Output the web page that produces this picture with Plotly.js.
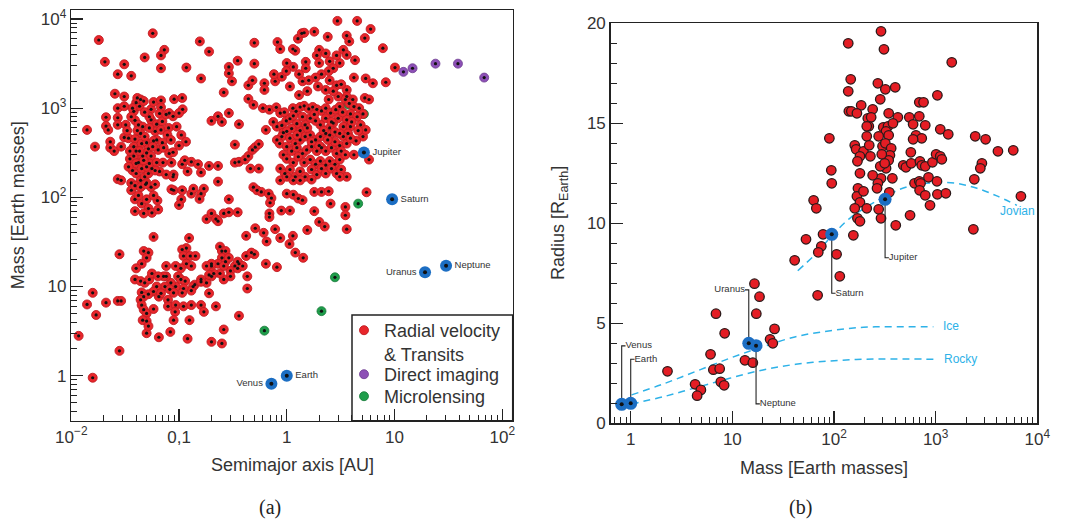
<!DOCTYPE html>
<html><head><meta charset="utf-8">
<script src="https://cdn.plot.ly/plotly-3.0.1.min.js"></script>
<style>html,body{margin:0;padding:0;background:#fff}#chart{width:1066px;height:525px}</style>
</head><body><div id="chart"></div>
<script>
// ---------- Panel (a): semimajor axis [AU] vs mass [Earth masses] ----------
const rvA = [
0.018,0.057,0.048,0.0205,0.031,0.027,0.036,0.073,0.068,0.068,
0.156,0.19,0.16,0.117,0.35,0.29,0.29,0.31,0.26,0.5,
0.5,0.44,0.48,0.62,0.62,0.82,0.87,0.78,0.76,0.9,
1.2,1.14,1.27,1.38,1.45,1.8,2.4,2.95,3.6,3.8,
4.5,5.3,6.0,7.8,10.1,8.3,6.3,5.4,4.2,4.3,
3.35,3.6,3.1,2.9,2.0,1.9,2.3,2.0,2.5,2.7,
2.45,2.1,1.85,1.5,1.5,1.3,1.4,1.6,1.15,1.0,
0.99,1.07,2.5,2.9,3.6,3.2,2.3,1.95,1.55,1.3,
4.1,5.3,5.8,3.6,3.0,2.45,2.7,
0.014,0.0166,0.021,0.021,0.0254,0.027,0.027,0.022,0.023,0.023,
0.025,0.027,0.031,0.031,0.032,0.031,0.029,0.027,0.029,0.034,
0.035,0.036,0.036,0.038,0.040,0.041,0.043,0.044,0.047,0.039,
0.042,0.046,0.044,0.039,0.038,0.040,0.045,0.050,0.052,0.038,
0.042,0.046,0.050,0.055,0.037,0.040,0.044,0.048,0.052,0.056,
0.040,0.045,0.050,0.053,0.039,0.044,0.050,0.055,0.060,0.039,
0.039,0.045,0.050,0.052,0.056,0.063,0.064,0.047,0.055,0.058,
0.068,0.068,0.066,0.055,0.062,0.070,0.076,0.081,0.060,0.068,
0.080,0.088,0.062,0.070,0.078,0.084,0.095,0.064,0.072,0.081,
0.088,0.090,0.107,0.108,0.100,0.105,0.116,0.100,0.062,0.071,
0.085,0.089,0.066,0.076,0.088,0.089,0.085,0.107,0.113,0.120,
0.130,0.150,0.160,0.107,0.105,0.100,0.130,0.136,0.160,0.170,
0.155,0.180,0.200,0.220,0.230,0.260,0.290,0.290,0.350,0.190,
0.230,0.230,0.200,0.230,0.250,0.290,0.360,0.330,0.330,0.360,
0.410,0.440,0.480,0.510,0.550,0.460,0.550,0.640,0.440,0.490,
0.600,0.690,0.800,0.870,0.033,0.036,0.041,0.048,0.053,0.058,
0.043,0.047,0.035,0.057,0.049,0.042,0.058,0.034,0.060,0.053,
0.048,0.037,
0.75,0.81,0.90,0.93,0.99,1.07,1.14,1.22,1.33,1.45,
1.6,1.74,1.9,2.1,2.3,2.55,2.85,3.1,3.5,3.8,
4.2,4.7,5.1,4.85,5.1,5.4,3.9,3.6,3.35,3.9,
3.7,3.35,3.1,3.6,3.0,2.7,2.5,2.3,2.05,1.85,
1.65,1.48,1.33,1.24,1.11,1.0,0.9,0.81,0.86,1.07,
1.2,1.33,1.48,1.65,1.85,2.05,2.3,2.5,2.8,3.1,
1.0,1.11,1.24,1.4,1.53,1.7,1.9,2.1,2.3,2.6,
2.9,3.2,0.93,1.0,1.15,1.28,1.45,1.65,1.85,2.05,
2.3,2.5,2.8,3.1,3.5,4.2,0.87,0.96,1.07,1.2,
1.33,1.48,1.7,1.9,2.1,2.3,2.6,2.9,3.2,3.6,
3.1,0.87,1.0,1.15,1.33,1.7,5.8,1.4,1.8,2.2,
2.6,1.55,1.25,2.0,2.8,1.15,0.95,1.7,2.4,3.3,
4.5,4.0,4.6,4.4,3.9,
0.49,0.53,0.58,0.68,0.72,0.70,0.69,0.69,0.89,1.07,
1.0,1.15,1.28,1.4,1.55,1.8,2.1,2.45,1.8,2.0,
2.25,2.55,3.5,3.5,3.6,5.5,0.51,0.61,0.65,0.78,
0.87,1.06,1.2,1.14,1.42,0.42,0.42,0.50,0.64,0.81,
0.43,0.36,0.33,0.30,0.24,0.25,0.27,0.25,0.27,0.30,
0.26,0.24,0.21,0.20,0.18,0.16,0.14,0.135,0.13,0.20,
0.23,0.124,0.117,0.107,0.11,0.127,0.142,0.117,0.13,0.104,
0.093,0.098,0.104,0.114,0.11,0.107,0.093,0.084,0.076,0.072,
0.074,0.082,0.089,0.058,0.052,0.047,0.050,0.045,0.040,0.039,
0.044,0.048,0.053,0.056,0.064,0.062,0.058,0.052,0.045,0.047,
0.065,0.076,0.068,0.079,0.079,0.093,0.092,0.089,0.11,0.13,
0.16,0.17,0.22,0.19,0.19,0.16,0.125,0.044,0.045,0.047,
0.050,0.050,0.046,0.050,0.052,0.058,0.065,0.083,0.12,0.20,
0.25,0.26,0.36,0.43,0.35,0.35,0.39,0.47,0.26,0.29,
0.20,0.18,0.0158,0.0117,0.014,0.0158,0.017,0.021,0.027,0.029,
0.028,0.028
];
const rvM = [
5800,6900,3700,3300,3100,2400,2300,4500,3900,2800,
5600,4300,2150,2850,3400,2900,2450,2000,1500,5400,
3150,1800,2050,1900,1600,5500,4600,2000,2400,2250,
4400,4600,6000,6900,7000,7200,6300,9500,6500,5600,
9500,6100,7700,4700,2850,1950,1900,2150,2200,3450,
4500,3950,3200,3900,4500,3900,4100,3200,3350,2800,
2600,2400,2200,3300,2800,2400,2000,2050,2900,3200,
2600,1750,2050,1800,1600,1850,1600,1750,1550,1400,
1250,1300,1250,1350,1350,1250,1550,
570,370,790,630,1450,780,650,570,420,360,
330,1000,1350,1050,650,470,370,160,155,460,
270,145,120,920,1150,1300,1050,1250,1200,730,
650,620,520,450,370,330,400,410,350,290,
245,290,315,290,200,185,155,170,185,210,
240,210,220,240,135,130,145,130,140,95,
70,85,95,75,67,92,73,66,970,1170,
1220,1020,870,740,660,710,850,880,550,570,
600,810,440,410,500,440,620,340,360,310,
320,1260,1300,970,880,500,420,380,245,245,
245,180,195,180,170,120,123,235,260,195,
250,235,190,120,95,82,110,125,110,125,
96,57,66,57,54,66,68,95,68,225,
225,150,720,810,700,880,660,390,245,250,
265,290,340,365,395,210,210,570,1270,1090,
1000,960,1020,880,560,800,560,480,600,430,
330,260,330,370,140,105,105,220,200,800,
900,1000,
700,620,640,530,720,760,1000,920,1030,1060,
980,1030,970,930,1000,880,960,1040,1250,1130,
1040,1000,860,650,480,570,860,740,620,620,
520,480,380,400,770,680,600,770,650,720,
770,650,560,670,590,550,480,440,400,460,
400,440,480,500,440,480,520,500,540,520,
370,330,360,310,340,370,330,360,330,360,
310,330,300,270,245,285,245,265,235,255,
230,255,235,265,300,300,210,185,205,170,
195,170,205,180,210,185,210,185,205,170,
170,155,170,155,155,158,265,800,850,560,
700,600,500,380,420,820,900,420,440,900,
800,700,560,430,460,
130,120,115,110,98,87,66,60,71,71,
110,107,97,93,43,115,115,117,70,53,
47,85,78,63,44,114,45,40,32,44,
35,30,24,37,21,37,22,23,18,16.5,
13,18,17,15,28,25,25,21,19,13,
12,14,14,13,11,12,10.5,10,9,17,
18,35,27,26,22,22,22,18,17,16,
17,13,12,11.5,9.5,8.5,10,11,13,13,
10,9.3,8.5,36,24,25,21,18,16,12,
11.5,11,12,14,13,10,8.8,8.2,8.6,7.7,
7.7,17,8.4,7.1,6.0,6.2,5.2,4.2,6.0,6.2,
6.2,5.2,6.0,8.4,13.5,11.3,4.2,7.1,6.2,5.5,
5.0,4.1,4.2,3.0,3.6,5.6,2.7,3.1,2.6,2.4,
2.3,3.3,4.7,9.5,19,16,17,24,17,21,
18,17,0.95,2.8,6.3,8.5,4.8,6.6,6.9,6.9,
1.9,23
];
const diA = [12.1,14.7,24,38.8,68];
const diM = [2550,2800,3150,3150,2200];
const mlA = [3.7,5.2,4.6,2.8,2.1,0.62];
const mlM = [1100,860,85,12.7,5.3,3.2];
const solarNamesA = ['Venus','Earth','Jupiter','Saturn','Uranus','Neptune'];
const solarA = [0.72,1.0,5.2,9.5,19.2,30.1];
const solarMA = [0.815,1.0,318,95,14.5,17.1];
const solarSideA = ['left','right','right','right','left','right'];

// ---------- Panel (b): mass [Earth masses] vs radius [R_Earth] ----------
const exoMass = [
290,310,138,1440,146,138,270,320,400,285,
1040,690,760,185,140,148,168,240,345,215,
232,220,210,210,425,550,690,600,790,305,
340,325,345,380,275,90,640,730,600,1110,
1330,2450,3100,4100,5800,160,165,195,222,180,
228,170,300,320,365,355,345,325,295,285,
290,315,240,480,510,570,575,700,730,790,
930,1010,1110,1150,2850,2750,2400,850,1030,620,
690,710,695,790,1040,1260,880,560,405,2350,
6900,350,375,270,265,172,168,180,195,160,
170,180,210,275,290,155,180,94,95,63,
67,78,75,70,53,41,106,114,69,16.5,
18.5,17.2,6.9,8.4,26,23.5,25,6.1,6.5,7.5,
7.7,8.3,13.3,15.9,2.3,4.3,4.9,4.5
];
const exoRadius = [
19.6,18.7,19.0,18.05,17.2,16.6,17.0,16.7,16.8,16.2,
16.4,16.05,16.05,15.9,15.6,15.6,15.5,15.7,15.5,15.25,
15.3,14.85,14.85,14.35,15.3,15.3,15.35,14.95,14.9,14.8,
14.85,14.6,14.4,15.0,14.35,14.25,14.4,14.25,14.2,14.7,
14.45,14.35,14.2,13.6,13.65,13.9,13.7,13.6,13.9,13.35,
13.35,13.1,13.85,14.0,13.75,13.4,13.15,12.75,13.45,12.85,
12.25,13.0,12.4,12.9,12.8,13.55,13.0,13.1,12.9,12.85,
13.05,13.45,13.35,13.2,13.0,12.75,12.2,12.3,12.1,12.0,
12.1,12.0,11.65,11.4,11.45,11.5,10.9,10.4,9.9,9.7,
11.35,11.55,12.25,12.0,11.75,11.75,11.35,11.05,11.6,10.75,
10.25,10.1,10.75,10.7,10.25,9.4,12.5,12.65,12.0,11.15,
10.75,9.45,8.85,8.55,9.2,8.15,8.45,7.35,6.4,6.98,
6.33,5.48,5.48,4.5,4.72,4.2,4.0,3.45,2.68,2.73,
2.07,1.9,3.15,3.03,2.6,1.95,1.67,1.38
];
const jovianMass = [44,67,97,143,210,305,445,655,1020,1600,2550,4000,6300];
const jovianRadius = [7.63,8.5,9.42,10.25,10.83,11.3,11.7,11.95,12.03,12.0,11.75,11.37,10.9];
const iceMass = [1.02,2.1,4.5,9.4,20,42,92,195,410,950];
const iceRadius = [1.42,1.97,2.62,3.25,3.83,4.33,4.63,4.8,4.83,4.83];
const rockyMass = [1.02,2.1,4.5,9.4,20,42,92,195,410,950];
const rockyRadius = [0.97,1.33,1.8,2.25,2.67,2.95,3.12,3.2,3.22,3.2];
const solarNamesB = ['Venus','Earth','Uranus','Neptune','Saturn','Jupiter'];
const solarMB = [0.815,1.0,14.5,17.1,95,318];
const solarRB = [0.95,1.0,4.0,3.88,9.45,11.2];
const solarLabelRB = [3.87,3.2,6.67,0.97,6.5,8.28];
const solarSideB = ['right','right','left','right','right','right'];
const modelLabels = ['Jovian','Ice','Rocky'];
const modelLabelMass = [6400,1400,1740];
const modelLabelRadius = [10.63,4.87,3.22];

// ---------- styling ----------
const RED='#e8262b', REDLINE='#c01d22', BLUE='#1c6ec3', PURPLE='#8d50b6', GREEN='#1f9d4b', CYAN='#2eb2e8';
const FONT='Liberation Sans, Arial, sans-serif';
const TXT='#333333';
const W=1066,H=525;

function dots(x,y,xa,ya,size){
  return {x:x,y:y,xaxis:xa,yaxis:ya,type:'scatter',mode:'markers',showlegend:false,hoverinfo:'skip',
    marker:{color:'#111',size:size,line:{width:0}}};
}

const traces = [];
// (a) microlensing first (partly hidden behind red points)
traces.push({x:mlA,y:mlM,xaxis:'x',yaxis:'y',type:'scatter',mode:'markers',name:'Microlensing',legend:'legend3',
  marker:{color:GREEN,size:9,line:{color:'#177a39',width:0.8}}});
traces.push(dots(mlA,mlM,'x','y',3.2));
traces.push({x:rvA,y:rvM,xaxis:'x',yaxis:'y',type:'scatter',mode:'markers',name:'Radial velocity<br>& Transits',legend:'legend',
  marker:{color:RED,size:9,line:{color:REDLINE,width:0.9}}});
traces.push(dots(rvA,rvM,'x','y',3.2));
traces.push({x:diA,y:diM,xaxis:'x',yaxis:'y',type:'scatter',mode:'markers',name:'Direct imaging',legend:'legend2',
  marker:{color:PURPLE,size:9,line:{color:'#6d3c90',width:0.8}}});
traces.push(dots(diA,diM,'x','y',3.2));
traces.push({x:solarA,y:solarMA,xaxis:'x',yaxis:'y',type:'scatter',mode:'markers+text',showlegend:false,
  text:solarNamesA,textposition:solarSideA.map(s=>s==='right'?'middle right':'middle left'),
  textfont:{family:FONT,size:9.5,color:TXT},
  marker:{color:BLUE,size:12,line:{width:0}}});
traces.push(dots(solarA,solarMA,'x','y',4));

// (b) model curves
[[jovianMass,jovianRadius],[iceMass,iceRadius],[rockyMass,rockyRadius]].forEach(p=>{
  traces.push({x:p[0],y:p[1],xaxis:'x2',yaxis:'y2',type:'scatter',mode:'lines',showlegend:false,hoverinfo:'skip',
    line:{color:CYAN,width:1.5,dash:'7px,5px',shape:'spline'}});
});
// (b) exoplanets
traces.push({x:exoMass,y:exoRadius,xaxis:'x2',yaxis:'y2',type:'scatter',mode:'markers',showlegend:false,
  marker:{color:'#e41d24',size:9.5,line:{color:'#2b1a1a',width:1.3}}});
// (b) leader lines and labels for solar-system planets
const lx=[], ly=[], tx=[], ty=[], tpos=[];
solarNamesB.forEach((n,i)=>{
  const f = solarSideB[i]==='right' ? 1.09 : 1/1.09;
  lx.push(solarMB[i], solarMB[i], solarMB[i]*f, null);
  ly.push(solarRB[i], solarLabelRB[i], solarLabelRB[i], null);
  tx.push(solarMB[i]*f); ty.push(solarLabelRB[i]);
  tpos.push(solarSideB[i]==='right' ? 'middle right' : 'middle left');
});
traces.push({x:lx,y:ly,xaxis:'x2',yaxis:'y2',type:'scatter',mode:'lines',showlegend:false,hoverinfo:'skip',
  line:{color:'#222',width:1.1}});
traces.push({x:tx,y:ty,xaxis:'x2',yaxis:'y2',type:'scatter',mode:'text',showlegend:false,text:solarNamesB,
  textposition:tpos,textfont:{family:FONT,size:9.5,color:TXT}});
traces.push({x:solarMB,y:solarRB,xaxis:'x2',yaxis:'y2',type:'scatter',mode:'markers',showlegend:false,
  marker:{color:BLUE,size:13,line:{width:0}}});
traces.push(dots(solarMB,solarRB,'x2','y2',4));

// minor tick positions (axis decoration)
function minorLog(k0,k1){const v=[];for(let k=k0;k<=k1;k++){for(let m=2;m<=9;m++)v.push(m*Math.pow(10,k));}return v;}

const axLine = {showline:true,linecolor:'#222',linewidth:1.5,mirror:true,showgrid:false,zeroline:false,
  ticks:'inside',ticklen:12,tickwidth:1.2,tickcolor:'#222',tickfont:{family:FONT,size:17,color:TXT}};

function legendAt(topPx){
  return {x:344/W,y:(H-topPx)/H,xanchor:'left',yanchor:'top',bgcolor:'rgba(0,0,0,0)',borderwidth:0,
    font:{family:FONT,size:18,color:TXT},valign:'top',tracegroupgap:0,itemclick:false,itemdoubleclick:false};
}

const layout = {
  width:W,height:H,margin:{l:0,r:0,t:0,b:0},paper_bgcolor:'#fff',plot_bgcolor:'#fff',hovermode:false,
  showlegend:true,
  legend:legendAt(312),
  legend2:legendAt(356),
  legend3:legendAt(378),
  xaxis:Object.assign({},axLine,{type:'log',domain:[71.3/W,512.7/W],range:[-2.0,2.097],anchor:'y',
    tickmode:'array',tickvals:[0.01,0.1,1,10,100],ticktext:['10<sup>\u22122</sup>','0,1','1','10','10<sup>2</sup>'],
    minor:{tickmode:'array',tickvals:minorLog(-2,2),ticks:'inside',ticklen:6,tickwidth:1,tickcolor:'#222',showgrid:false}}),
  yaxis:Object.assign({},axLine,{type:'log',domain:[(H-420.7)/H,(H-10)/H],range:[-0.504,4.10],anchor:'x',
    tickmode:'array',tickvals:[1,10,100,1000,10000],ticktext:['1','10','10<sup>2</sup>','10<sup>3</sup>','10<sup>4</sup>'],
    minor:{tickmode:'array',tickvals:minorLog(-1,3),ticks:'inside',ticklen:6,tickwidth:1,tickcolor:'#222',showgrid:false}}),
  xaxis2:Object.assign({},axLine,{type:'log',domain:[610.7/W,1037.3/W],range:[-0.197,4.0],anchor:'y2',
    tickmode:'array',tickvals:[1,10,100,1000,10000],ticktext:['1','10','10<sup>2</sup>','10<sup>3</sup>','10<sup>4</sup>'],
    minor:{tickmode:'array',tickvals:minorLog(-1,3),ticks:'inside',ticklen:6,tickwidth:1,tickcolor:'#222',showgrid:false}}),
  yaxis2:Object.assign({},axLine,{domain:[(H-423.3)/H,(H-23.3)/H],range:[0,20],anchor:'x2',
    tickmode:'array',tickvals:[0,5,10,15,20],
    minor:{dtick:1,ticks:'inside',ticklen:6,tickwidth:1,tickcolor:'#222',showgrid:false}}),
  shapes:[{type:'rect',xref:'paper',yref:'paper',x0:352/W,x1:512.7/W,y0:(H-420.7)/H,y1:(H-315)/H,
    line:{color:'#222',width:1.5},fillcolor:'rgba(0,0,0,0)',layer:'below'}],
  annotations:[
    {text:'Mass [Earth masses]',xref:'paper',yref:'paper',x:18.3/W,y:(H-205)/H,textangle:-90,showarrow:false,
      font:{family:FONT,size:18,color:TXT},xanchor:'center',yanchor:'middle'},
    {text:'Semimajor axis [AU]',xref:'paper',yref:'paper',x:292.5/W,y:(H-465)/H,showarrow:false,
      font:{family:FONT,size:18,color:TXT},xanchor:'center',yanchor:'middle'},
    {text:'Radius [R<sub>Earth</sub>]',xref:'paper',yref:'paper',x:559/W,y:(H-223)/H,textangle:-90,showarrow:false,
      font:{family:FONT,size:18,color:TXT},xanchor:'center',yanchor:'middle'},
    {text:'Mass [Earth masses]',xref:'paper',yref:'paper',x:824/W,y:(H-468)/H,showarrow:false,
      font:{family:FONT,size:18,color:TXT},xanchor:'center',yanchor:'middle'},
    {text:'(a)',xref:'paper',yref:'paper',x:270/W,y:(H-507)/H,showarrow:false,
      font:{family:'Liberation Serif, DejaVu Serif, serif',size:20,color:'#222'},xanchor:'center',yanchor:'middle'},
    {text:'(b)',xref:'paper',yref:'paper',x:800/W,y:(H-507)/H,showarrow:false,
      font:{family:'Liberation Serif, DejaVu Serif, serif',size:20,color:'#222'},xanchor:'center',yanchor:'middle'}
  ].concat(modelLabels.map((t,i)=>({text:t,xref:'x2',yref:'y2',x:Math.log10(modelLabelMass[i]),y:modelLabelRadius[i],
      showarrow:false,font:{family:FONT,size:12,color:CYAN},xanchor:'center',yanchor:'middle'})))
};

Plotly.newPlot('chart',traces,layout,{displayModeBar:false,staticPlot:true});
</script></body></html>
